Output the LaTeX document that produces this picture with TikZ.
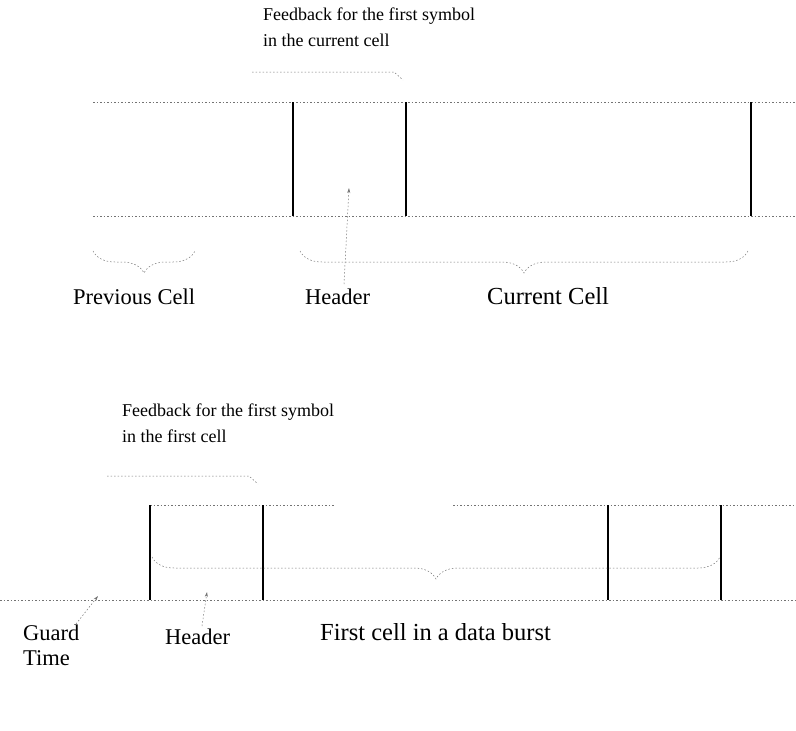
\documentclass[tikz,border=0pt]{standalone}
\usepackage{fontspec}
\setmainfont{Liberation Serif}
\usetikzlibrary{decorations.pathreplacing,arrows.meta}
\begin{document}
\begin{tikzpicture}[x=1pt,y=-1pt,
  thinline/.style={line width=0.5pt, black!55, dash pattern=on 1.5pt off 2pt},
  edgeline/.style={line width=1.6pt, black},
  note/.style={font=\fontsize{18}{26}\selectfont, inner sep=0pt, anchor=base west, align=left},
  lbl/.style={font=\fontsize{22.5}{25}\selectfont, inner sep=0pt, anchor=base west, align=left},
  widelbl/.style={lbl, font=\fontsize{24.5}{25}\selectfont},
  brc/.style={thinline, decorate, decoration={brace, amplitude=22pt, mirror}},
  pointer/.style={thinline, -{Stealth[length=5pt,width=3pt]}},
]
\useasboundingbox (0,0) rectangle (796,731);

% ---------- upper timeline: previous cell, header, current cell ----------
% (base west of a two-line node sits on its last line)
\node[note] (fbTop) at (263,46) {Feedback for the first symbol\\in the current cell};
\draw[thinline] (93,102) -- (796,102);
\draw[thinline] (93,216) -- (796,216);
\draw[edgeline] (293,102) -- (293,216);
\draw[edgeline] (406,102) -- (406,216);
\draw[edgeline] (751,102) -- (751,216);
\coordinate (fbTopA) at (252,72);
\coordinate (fbTopB) at (394,72);
\coordinate (fbTopC) at (403,80);
\draw[thinline] (fbTopA) -- (fbTopB) -- (fbTopC);

\draw[brc] (93,251) -- (195,251);
\draw[brc] (300,251) -- (748,251);
\node[lbl] (prevCell) at (73,304) {Previous Cell};
\node[lbl] (hdrTop) at (305,304) {Header};
\node[widelbl] (curCell) at (487,304) {Current Cell};
\coordinate (hdrTopTip) at (349,188);
\coordinate (hdrTopFoot) at (344,284);
\draw[pointer] (hdrTopFoot) -- (hdrTopTip);

% ---------- lower timeline: guard time, header, first cell ----------
\node[note] (fbBot) at (122,442) {Feedback for the first symbol\\in the first cell};
\coordinate (fbBotA) at (107,476);
\coordinate (fbBotB) at (249,476);
\coordinate (fbBotC) at (258,484);
\draw[thinline] (fbBotA) -- (fbBotB) -- (fbBotC);

\draw[thinline] (150,505) -- (335,505);
\draw[thinline] (453,505) -- (796,505);
\draw[thinline] (0,600) -- (796,600);
\draw[edgeline] (150,505) -- (150,600);
\draw[edgeline] (263,505) -- (263,600);
\draw[edgeline] (608,505) -- (608,600);
\draw[edgeline] (721,505) -- (721,600);

\draw[brc] (152,557) -- (720,557);
\node[lbl] (guard) at (23,665) {Guard\\Time};
\node[lbl] (hdrBot) at (165,644) {Header};
\node[widelbl] (burst) at (320,640) {First cell in a data burst};
\coordinate (guardTip) at (98,596);
\coordinate (guardFoot) at (76,624);
\draw[pointer] (guardFoot) -- (guardTip);
\coordinate (hdrBotTip) at (207,592);
\coordinate (hdrBotFoot) at (202,626);
\draw[pointer] (hdrBotFoot) -- (hdrBotTip);
\end{tikzpicture}
\end{document}
